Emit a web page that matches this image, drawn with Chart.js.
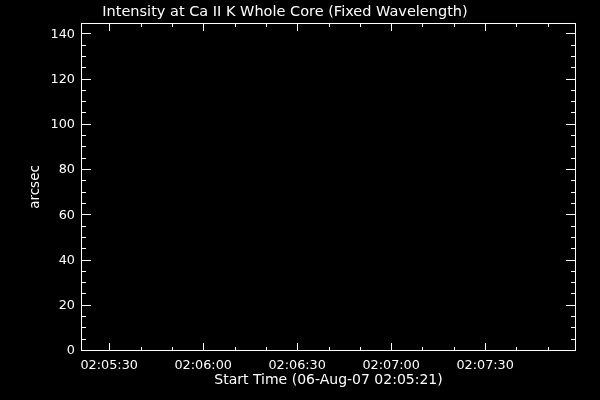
<!DOCTYPE html>
<html>
<head>
<meta charset="utf-8">
<script src="https://cdn.jsdelivr.net/npm/chart.js@4/dist/chart.umd.min.js"></script>
<style>
  html, body { margin: 0; padding: 0; background: #000; }
  #wrap { width: 600px; height: 400px; }
</style>
</head>
<body>
<div id="wrap"><canvas id="chart" width="600" height="400"></canvas></div>
<script>
// time axis is in seconds after 02:05:00
const baseHour = 2;
const baseMinute = 5;
const xMin = 21;
const xMax = 179;
const xMajorTicks = [30, 60, 90, 120, 150];
const xMinorTicks = [40, 50, 70, 80, 100, 110, 130, 140, 160, 170];

const yMin = 0;
const yMax = 145;
const yMajorTicks = [0, 20, 40, 60, 80, 100, 120, 140];
const yMinorTicks = [5, 10, 15, 25, 30, 35, 45, 50, 55, 65, 70, 75, 85, 90, 95, 105, 110, 115, 125, 130, 135];

// the reference plot has no data drawn in it
const seriesTimes = [];
const seriesValues = [];

const titleText = "Intensity at Ca II K Whole Core (Fixed Wavelength)";
const xTitle = "Start Time (06-Aug-07 02:05:21)";
const yTitle = "arcsec";

const fontFamily = "'DejaVu Sans', sans-serif";

function pad2(n) {
    return String(n).padStart(2, "0");
}

function formatTime(sec) {
    const total = baseHour * 3600 + baseMinute * 60 + sec;
    const h = Math.floor(total / 3600);
    const m = Math.floor((total % 3600) / 60);
    const s = Math.round(total % 60);
    return `${pad2(h)}:${pad2(m)}:${pad2(s)}`;
}

const idlFrame = {
    id: "idlFrame",
    afterDraw(chart) {
        const { ctx, chartArea } = chart;
        const xs = chart.scales.x;
        const ys = chart.scales.y;
        const L = chartArea.left, R = chartArea.right, T = chartArea.top, B = chartArea.bottom;

        ctx.save();
        ctx.strokeStyle = "#ffffff";
        ctx.lineWidth = 1;
        ctx.strokeRect(L + 0.5, T + 0.5, R - L - 1, B - T - 1);

        ctx.beginPath();
        const xTick = (v, len) => {
            const px = Math.round(xs.getPixelForValue(v)) + 0.5;
            ctx.moveTo(px, B); ctx.lineTo(px, B - len);
            ctx.moveTo(px, T); ctx.lineTo(px, T + len);
        };
        const yTick = (v, len) => {
            const py = Math.round(ys.getPixelForValue(v)) - 0.5;
            ctx.moveTo(L, py); ctx.lineTo(L + len, py);
            ctx.moveTo(R, py); ctx.lineTo(R - len, py);
        };
        xMajorTicks.forEach(v => xTick(v, 8));
        xMinorTicks.forEach(v => xTick(v, 4));
        yMajorTicks.forEach(v => yTick(v, 10));
        yMinorTicks.forEach(v => yTick(v, 5));
        ctx.stroke();

        ctx.fillStyle = "#ffffff";
        ctx.font = `14.5px ${fontFamily}`;
        ctx.textAlign = "center";
        ctx.textBaseline = "middle";
        ctx.fillText(titleText, 285, 12.5);
        ctx.restore();
    }
};

new Chart(document.getElementById("chart"), {
    type: "scatter",
    data: {
        datasets: [{
            data: seriesTimes.map((t, i) => ({ x: t, y: seriesValues[i] })),
            borderColor: "#ffffff",
            backgroundColor: "#ffffff",
            showLine: true,
            pointRadius: 0
        }]
    },
    options: {
        responsive: false,
        animation: false,
        layout: { padding: { top: 23, right: 24, left: 0, bottom: 0 } },
        plugins: {
            legend: { display: false },
            tooltip: { enabled: false },
            title: { display: false }
        },
        scales: {
            x: {
                type: "linear",
                min: xMin,
                max: xMax,
                afterBuildTicks: scale => {
                    scale.ticks = xMajorTicks.map(v => ({ value: v }));
                },
                afterFit: scale => { scale.height = 49; },
                grid: { display: false, drawTicks: false },
                border: { display: false },
                ticks: {
                    color: "#ffffff",
                    font: { family: fontFamily, size: 12.8 },
                    padding: 6.5,
                    maxRotation: 0,
                    autoSkip: false,
                    callback: value => formatTime(value)
                },
                title: {
                    display: true,
                    text: xTitle,
                    color: "#ffffff",
                    font: { family: fontFamily, size: 14 },
                    padding: { top: 0, bottom: 11.5 }
                }
            },
            y: {
                type: "linear",
                min: yMin,
                max: yMax,
                afterBuildTicks: scale => {
                    scale.ticks = yMajorTicks.map(v => ({ value: v }));
                },
                afterFit: scale => { scale.width = 81; },
                grid: { display: false, drawTicks: false },
                border: { display: false },
                ticks: {
                    color: "#ffffff",
                    font: { family: fontFamily, size: 12.8 },
                    padding: 6,
                    autoSkip: false
                },
                title: {
                    display: true,
                    text: yTitle,
                    color: "#ffffff",
                    font: { family: fontFamily, size: 13.5 },
                    padding: { top: 27, bottom: 0 }
                }
            }
        }
    },
    plugins: [{
        id: "blackBackground",
        beforeDraw(chart) {
            const ctx = chart.ctx;
            ctx.save();
            ctx.fillStyle = "#000000";
            ctx.fillRect(0, 0, chart.width, chart.height);
            ctx.restore();
        }
    }, idlFrame]
});
</script>
</body>
</html>
